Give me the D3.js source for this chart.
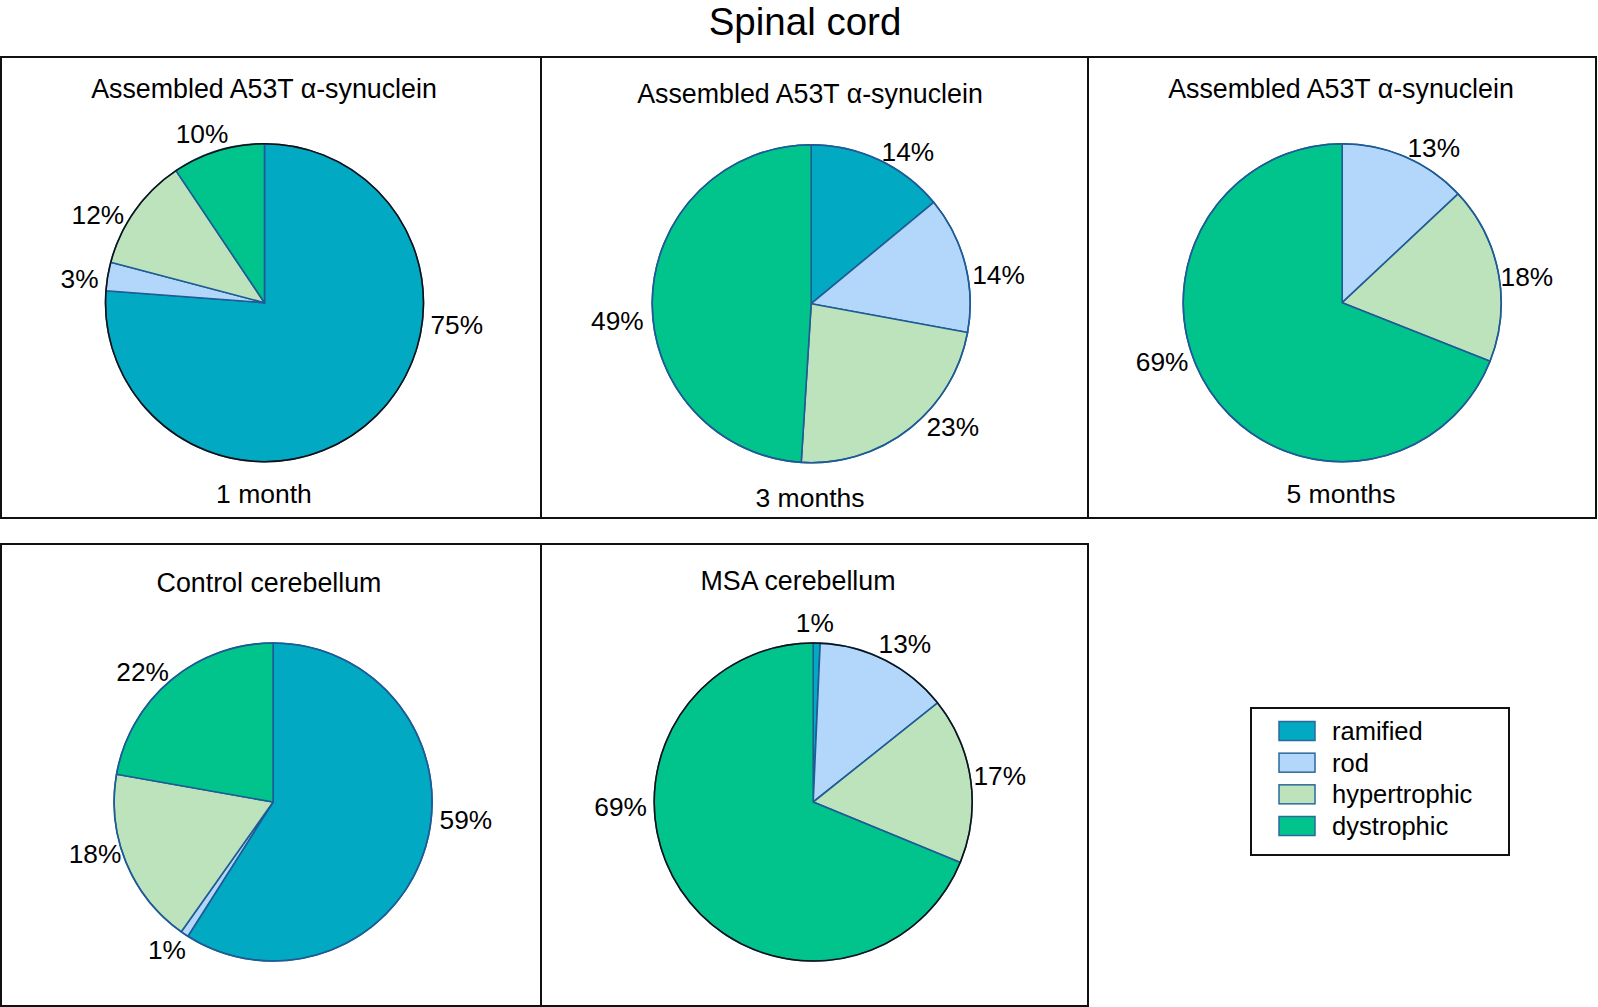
<!DOCTYPE html>
<html>
<head>
<meta charset="utf-8">
<script src="https://cdn.jsdelivr.net/npm/d3@7"></script>
<style>
  html, body { margin: 0; padding: 0; background: #fff; }
  svg { display: block; font-family: "Liberation Sans", Arial, Helvetica, sans-serif; }
</style>
</head>
<body>
<svg id="chart" width="1598" height="1007"></svg>
<script>
// ---------- data ----------
const chartTitle = "Spinal cord";
const categories = ["ramified", "rod", "hypertrophic", "dystrophic"];

const panelTitles = [
  "Assembled A53T \u03B1-synuclein",
  "Assembled A53T \u03B1-synuclein",
  "Assembled A53T \u03B1-synuclein",
  "Control cerebellum",
  "MSA cerebellum"
];
const panelCaptions = ["1 month", "3 months", "5 months", "", ""];

// slice shares (%) in category order
const oneMonth          = [76.2, 2.9, 11.5, 9.4];
const threeMonths       = [14.0, 13.9, 23.1, 49.0];
const fiveMonths        = [0, 13.0, 18.0, 69.0];
const controlCerebellum = [59.0, 0.8, 18.0, 22.2];
const msaCerebellum     = [0.7, 13.6, 16.9, 68.8];
const seriesValues = [oneMonth, threeMonths, fiveMonths, controlCerebellum, msaCerebellum];

// printed percentage labels
const oneMonthLabels          = ["75%", "3%", "12%", "10%"];
const threeMonthsLabels       = ["14%", "14%", "23%", "49%"];
const fiveMonthsLabels        = [null, "13%", "18%", "69%"];
const controlCerebellumLabels = ["59%", "1%", "18%", "22%"];
const msaCerebellumLabels     = ["1%", "13%", "17%", "69%"];
const seriesLabels = [oneMonthLabels, threeMonthsLabels, fiveMonthsLabels, controlCerebellumLabels, msaCerebellumLabels];

// ---------- layout / style ----------
const colors = ["#02A9C2", "#B3D7FA", "#BDE3BD", "#00C48C"];
const edgeColor = "#1F5B95";
const R = 159;

const panels = [
  { box: [1, 57, 540, 461],    cx: 264.5, cy: 302.7, titleY: 98,  capY: 503, titleX: 264, ring: "#111" },
  { box: [541, 57, 547, 461],  cx: 811.2, cy: 303.7, titleY: 103, capY: 507, titleX: 810, ring: edgeColor },
  { box: [1088, 57, 508, 461], cx: 1342.2, cy: 302.7, titleY: 98, capY: 503, titleX: 1341, ring: edgeColor },
  { box: [1, 544, 540, 462],   cx: 273.1, cy: 802,   titleY: 592, capY: 0,  titleX: 269, ring: edgeColor },
  { box: [541, 544, 547, 462], cx: 813.2, cy: 802,   titleY: 590, capY: 0,  titleX: 798, ring: "#111" }
];

// label placement: [angle in degrees clockwise from 12 o'clock, distance from centre]
const labelPlacement = [
  [[96.6, 193.5], [277.5, 186.5], [297.9, 188.5], [339.7, 180]],
  [[32.5, 180],   [81.3, 189.5],  [131, 187.5],   [264.9, 194.6]],
  [null,          [30.6, 180],    [82.1, 186.5],  [251.9, 189.5]],
  [[95.1, 193.6], [215.7, 182],   [253.8, 185.5], [315, 184.5]],
  [[0.5, 179],    [30, 183.4],    [81.9, 188.5],  [268.5, 192.6]]
];

const svg = d3.select("#chart");

// title
svg.append("text")
  .attr("x", 805).attr("y", 35)
  .attr("text-anchor", "middle")
  .attr("font-size", 38.5)
  .attr("fill", "#000")
  .text(chartTitle);

const pie = d3.pie().sort(null).value(d => d.v);
const arc = d3.arc().innerRadius(0).outerRadius(R);

panels.forEach((p, i) => {
  // frame
  svg.append("rect")
    .attr("x", p.box[0]).attr("y", p.box[1])
    .attr("width", p.box[2]).attr("height", p.box[3])
    .attr("fill", "none").attr("stroke", "#111").attr("stroke-width", 2);

  const g = svg.append("g").attr("transform", `translate(${p.cx},${p.cy})`);
  const data = seriesValues[i].map((v, k) => ({ v, k }));
  const arcs = pie(data).filter(a => a.data.v > 0);

  g.selectAll("path.slice")
    .data(arcs)
    .join("path")
    .attr("class", "slice")
    .attr("d", arc)
    .attr("fill", d => colors[d.data.k])
    .attr("stroke", edgeColor)
    .attr("stroke-width", 1.6)
    .attr("stroke-linejoin", "round");

  g.append("circle")
    .attr("r", R)
    .attr("fill", "none")
    .attr("stroke", p.ring)
    .attr("stroke-width", 1.5);

  // percentage labels
  seriesLabels[i].forEach((lab, k) => {
    const pl = labelPlacement[i][k];
    if (!lab || !pl) return;
    const [x, y] = d3.pointRadial(pl[0] * Math.PI / 180, pl[1]);
    g.append("text")
      .attr("x", x).attr("y", y + 9.4)
      .attr("text-anchor", "middle")
      .attr("font-size", 26.3)
      .attr("fill", "#000")
      .text(lab);
  });

  // panel title
  svg.append("text")
    .attr("x", p.titleX).attr("y", p.titleY)
    .attr("text-anchor", "middle")
    .attr("font-size", 26.8)
    .attr("fill", "#000")
    .text(panelTitles[i]);

  if (panelCaptions[i]) {
    svg.append("text")
      .attr("x", p.titleX).attr("y", p.capY)
      .attr("text-anchor", "middle")
      .attr("font-size", 26.5)
      .attr("fill", "#000")
      .text(panelCaptions[i]);
  }
});

// legend
const legend = svg.append("g");
legend.append("rect")
  .attr("x", 1251).attr("y", 708)
  .attr("width", 258).attr("height", 147)
  .attr("fill", "#fff").attr("stroke", "#111").attr("stroke-width", 2);

const rowY = d3.scalePoint().domain(categories).range([731, 826]);
categories.forEach((c, k) => {
  const y = rowY(c);
  legend.append("rect")
    .attr("x", 1279).attr("y", y - 9.5)
    .attr("width", 36).attr("height", 19)
    .attr("fill", colors[k]).attr("stroke", "#2A6A9A").attr("stroke-width", 1.5);
  legend.append("text")
    .attr("x", 1332).attr("y", y + 9)
    .attr("font-size", 25.5)
    .attr("fill", "#000")
    .text(c);
});
</script>
</body>
</html>
